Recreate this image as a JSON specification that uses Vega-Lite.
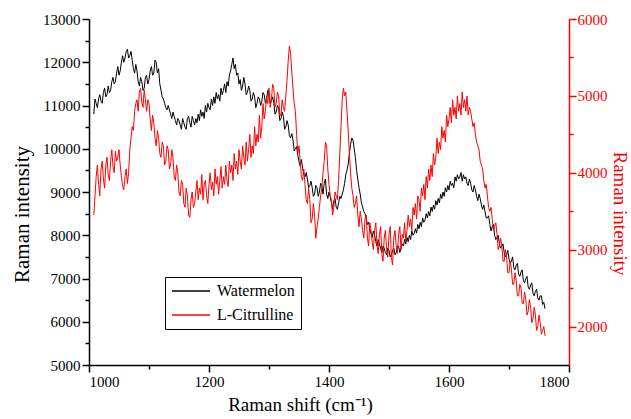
{
"$schema": "https://vega.github.io/schema/vega-lite/v6.json",
"width": 480, "height": 346,
"autosize": {"type": "none"},
"padding": {"left": 89, "top": 19, "right": 62, "bottom": 54},
"background": "white",
"config": {
  "view": {"stroke": null},
  "font": "Liberation Serif",
  "axis": {"grid": false, "labelFont": "Liberation Serif", "titleFont": "Liberation Serif", "labelFontSize": 15, "titleFontSize": 20, "titleFontWeight": "normal", "domainWidth": 1.5, "tickWidth": 1.5, "labelOverlap": false},
  "legend": {"labelFont": "Liberation Serif"}
},
"data": {"values": [
{"x":1008,"W":10800,"C":3450},{"x":1010,"W":11150,"C":3700},{"x":1012,"W":11050,"C":3950},{"x":1014,"W":10950,"C":4100},
{"x":1016,"W":11150,"C":3850},{"x":1018,"W":11250,"C":3700},{"x":1020,"W":11100,"C":4050},{"x":1022,"W":11050,"C":4150},
{"x":1024,"W":11300,"C":3920},{"x":1026,"W":11400,"C":3800},{"x":1028,"W":11200,"C":4100},{"x":1030,"W":11250,"C":4200},
{"x":1032,"W":11450,"C":3980},{"x":1034,"W":11300,"C":3900},{"x":1036,"W":11350,"C":4150},{"x":1038,"W":11550,"C":4300},
{"x":1040,"W":11650,"C":4080},{"x":1042,"W":11500,"C":4000},{"x":1044,"W":11550,"C":4280},{"x":1046,"W":11750,"C":4150},
{"x":1048,"W":11900,"C":4200},{"x":1050,"W":11700,"C":4300},{"x":1052,"W":11800,"C":4100},{"x":1054,"W":12000,"C":3950},
{"x":1056,"W":12150,"C":3830},{"x":1058,"W":12000,"C":3780},{"x":1060,"W":12100,"C":3950},{"x":1062,"W":12250,"C":4050},
{"x":1064,"W":12300,"C":3860},{"x":1066,"W":12100,"C":4000},{"x":1068,"W":12150,"C":4300},{"x":1070,"W":12250,"C":4450},
{"x":1072,"W":12050,"C":4600},{"x":1074,"W":11850,"C":4550},{"x":1076,"W":11750,"C":4800},{"x":1078,"W":11950,"C":4900},
{"x":1080,"W":11800,"C":4950},{"x":1082,"W":11550,"C":4800},{"x":1084,"W":11450,"C":5050},{"x":1086,"W":11650,"C":5100},
{"x":1088,"W":11550,"C":4920},{"x":1090,"W":11350,"C":4850},{"x":1092,"W":11400,"C":5080},{"x":1094,"W":11650,"C":4950},
{"x":1096,"W":11700,"C":4800},{"x":1098,"W":11500,"C":4950},{"x":1100,"W":11600,"C":4900},{"x":1102,"W":11800,"C":4700},
{"x":1104,"W":11900,"C":4550},{"x":1106,"W":11700,"C":4750},{"x":1108,"W":11750,"C":4650},{"x":1110,"W":12050,"C":4450},
{"x":1112,"W":12000,"C":4350},{"x":1114,"W":11750,"C":4550},{"x":1116,"W":11850,"C":4450},{"x":1118,"W":11500,"C":4250},
{"x":1120,"W":11350,"C":4200},{"x":1122,"W":11200,"C":4400},{"x":1124,"W":11150,"C":4350},{"x":1126,"W":11050,"C":4100},
{"x":1128,"W":10950,"C":4150},{"x":1130,"W":10900,"C":4350},{"x":1132,"W":11000,"C":4300},{"x":1134,"W":10900,"C":4050},
{"x":1136,"W":10800,"C":4100},{"x":1138,"W":10700,"C":4300},{"x":1140,"W":10850,"C":4200},{"x":1142,"W":10750,"C":3950},
{"x":1144,"W":10650,"C":3900},{"x":1146,"W":10550,"C":4100},{"x":1148,"W":10700,"C":4000},{"x":1150,"W":10650,"C":3750},
{"x":1152,"W":10550,"C":3700},{"x":1154,"W":10450,"C":3900},{"x":1156,"W":10700,"C":3850},{"x":1158,"W":10600,"C":3600},
{"x":1160,"W":10500,"C":3550},{"x":1162,"W":10450,"C":3800},{"x":1164,"W":10700,"C":3700},{"x":1166,"W":10750,"C":3450},
{"x":1168,"W":10600,"C":3420},{"x":1170,"W":10500,"C":3650},{"x":1172,"W":10750,"C":3750},{"x":1174,"W":10650,"C":3550},
{"x":1176,"W":10550,"C":3600},{"x":1178,"W":10700,"C":3750},{"x":1180,"W":10600,"C":3900},{"x":1182,"W":10800,"C":3650},
{"x":1184,"W":10650,"C":3800},{"x":1186,"W":10900,"C":3720},{"x":1188,"W":10750,"C":3980},{"x":1190,"W":10850,"C":3650},
{"x":1192,"W":10700,"C":3850},{"x":1194,"W":11000,"C":3900},{"x":1196,"W":10850,"C":3700},{"x":1198,"W":11050,"C":3600},
{"x":1200,"W":10950,"C":3850},{"x":1202,"W":10900,"C":4000},{"x":1204,"W":11150,"C":3780},{"x":1206,"W":11000,"C":3880},
{"x":1208,"W":11200,"C":3700},{"x":1210,"W":11050,"C":4050},{"x":1212,"W":11300,"C":3850},{"x":1214,"W":11150,"C":3950},
{"x":1216,"W":11250,"C":3720},{"x":1218,"W":11100,"C":3900},{"x":1220,"W":11400,"C":4080},{"x":1222,"W":11250,"C":3800},
{"x":1224,"W":11350,"C":3950},{"x":1226,"W":11500,"C":3850},{"x":1228,"W":11300,"C":4100},{"x":1230,"W":11550,"C":3900},
{"x":1232,"W":11450,"C":3820},{"x":1234,"W":11700,"C":4150},{"x":1236,"W":11800,"C":4000},{"x":1238,"W":11950,"C":4100},
{"x":1240,"W":12100,"C":3900},{"x":1242,"W":11850,"C":4250},{"x":1244,"W":11950,"C":4050},{"x":1246,"W":11700,"C":4150},
{"x":1248,"W":11750,"C":3980},{"x":1250,"W":11500,"C":4300},{"x":1252,"W":11600,"C":4150},{"x":1254,"W":11350,"C":4050},
{"x":1256,"W":11450,"C":4350},{"x":1258,"W":11650,"C":4200},{"x":1260,"W":11500,"C":4100},{"x":1262,"W":11250,"C":4400},
{"x":1264,"W":11300,"C":4150},{"x":1266,"W":11450,"C":4300},{"x":1268,"W":11350,"C":4500},{"x":1270,"W":11100,"C":4200},
{"x":1272,"W":11150,"C":4350},{"x":1274,"W":11300,"C":4250},{"x":1276,"W":11200,"C":4600},{"x":1278,"W":10950,"C":4350},
{"x":1280,"W":11050,"C":4500},{"x":1282,"W":11200,"C":4400},{"x":1284,"W":11150,"C":4750},{"x":1286,"W":11000,"C":4450},
{"x":1288,"W":11100,"C":4600},{"x":1290,"W":11300,"C":4900},{"x":1292,"W":11250,"C":4700},{"x":1294,"W":11050,"C":4800},
{"x":1296,"W":11150,"C":5000},{"x":1298,"W":11350,"C":4900},{"x":1300,"W":11300,"C":5100},{"x":1302,"W":11050,"C":4850},
{"x":1304,"W":11100,"C":4950},{"x":1306,"W":11200,"C":5150},{"x":1308,"W":11050,"C":5100},{"x":1310,"W":10800,"C":4850},
{"x":1312,"W":10850,"C":4900},{"x":1314,"W":11000,"C":5050},{"x":1316,"W":10950,"C":5000},{"x":1318,"W":10650,"C":4750},
{"x":1320,"W":10700,"C":4750},{"x":1322,"W":10850,"C":4950},{"x":1324,"W":10750,"C":4850},{"x":1326,"W":10450,"C":4800},
{"x":1328,"W":10500,"C":5000},{"x":1330,"W":10650,"C":5200},{"x":1332,"W":10550,"C":5450},{"x":1334,"W":10300,"C":5650},
{"x":1336,"W":10250,"C":5550},{"x":1338,"W":10350,"C":5300},{"x":1340,"W":10200,"C":5100},{"x":1342,"W":9950,"C":4900},
{"x":1344,"W":10000,"C":4800},{"x":1346,"W":10050,"C":4500},{"x":1348,"W":9850,"C":4250},{"x":1350,"W":9700,"C":4350},
{"x":1352,"W":9600,"C":4150},{"x":1354,"W":9750,"C":3950},{"x":1356,"W":9550,"C":3900},{"x":1358,"W":9400,"C":4050},
{"x":1360,"W":9350,"C":3850},{"x":1362,"W":9450,"C":3650},{"x":1364,"W":9300,"C":3600},{"x":1366,"W":9100,"C":3800},
{"x":1368,"W":9150,"C":3650},{"x":1370,"W":9250,"C":3350},{"x":1372,"W":9100,"C":3400},{"x":1374,"W":8900,"C":3600},
{"x":1376,"W":8950,"C":3450},{"x":1378,"W":9150,"C":3150},{"x":1380,"W":9100,"C":3300},{"x":1382,"W":8900,"C":3400},
{"x":1384,"W":9000,"C":3550},{"x":1386,"W":9200,"C":3700},{"x":1388,"W":9150,"C":3800},{"x":1390,"W":8950,"C":4000},
{"x":1392,"W":9200,"C":4150},{"x":1394,"W":9300,"C":4400},{"x":1396,"W":8950,"C":4350},{"x":1398,"W":8850,"C":4050},
{"x":1400,"W":9000,"C":3850},{"x":1402,"W":8900,"C":3700},{"x":1404,"W":8750,"C":3650},{"x":1406,"W":8600,"C":3450},
{"x":1408,"W":8800,"C":3550},{"x":1410,"W":8850,"C":3750},{"x":1412,"W":8650,"C":3700},{"x":1414,"W":8600,"C":3650},
{"x":1416,"W":8750,"C":3900},{"x":1418,"W":8900,"C":4250},{"x":1420,"W":8850,"C":4600},{"x":1422,"W":8950,"C":4950},
{"x":1424,"W":9050,"C":5100},{"x":1426,"W":9200,"C":5000},{"x":1428,"W":9400,"C":5050},{"x":1430,"W":9500,"C":4800},
{"x":1432,"W":9650,"C":4550},{"x":1434,"W":9900,"C":4250},{"x":1436,"W":10100,"C":4000},{"x":1438,"W":10250,"C":3800},
{"x":1440,"W":10200,"C":3700},{"x":1442,"W":10000,"C":3550},{"x":1444,"W":9800,"C":3600},{"x":1446,"W":9500,"C":3700},
{"x":1448,"W":9300,"C":3450},{"x":1450,"W":9100,"C":3300},{"x":1452,"W":8950,"C":3500},{"x":1454,"W":8750,"C":3400},
{"x":1456,"W":8650,"C":3250},{"x":1458,"W":8550,"C":3150},{"x":1460,"W":8500,"C":3400},{"x":1462,"W":8400,"C":3450},
{"x":1464,"W":8250,"C":3150},{"x":1466,"W":8300,"C":3050},{"x":1468,"W":8150,"C":3350},{"x":1470,"W":8050,"C":3250},
{"x":1472,"W":7950,"C":3100},{"x":1474,"W":8100,"C":3000},{"x":1476,"W":8000,"C":3250},{"x":1478,"W":7850,"C":3350},
{"x":1480,"W":7750,"C":3050},{"x":1482,"W":7900,"C":2950},{"x":1484,"W":7800,"C":3200},{"x":1486,"W":7700,"C":3300},
{"x":1488,"W":7600,"C":2950},{"x":1490,"W":7750,"C":2850},{"x":1492,"W":7700,"C":3150},{"x":1494,"W":7600,"C":3250},
{"x":1496,"W":7550,"C":3000},{"x":1498,"W":7700,"C":2900},{"x":1500,"W":7650,"C":3200},{"x":1502,"W":7500,"C":3300},
{"x":1504,"W":7550,"C":2900},{"x":1506,"W":7650,"C":2800},{"x":1508,"W":7700,"C":3150},{"x":1510,"W":7550,"C":3250},
{"x":1512,"W":7600,"C":3050},{"x":1514,"W":7750,"C":2950},{"x":1516,"W":7750,"C":3200},{"x":1518,"W":7600,"C":3300},
{"x":1520,"W":7700,"C":3000},{"x":1522,"W":7800,"C":3200},{"x":1524,"W":7750,"C":3150},{"x":1526,"W":7900,"C":3350},
{"x":1528,"W":7800,"C":3100},{"x":1530,"W":7950,"C":3250},{"x":1532,"W":7850,"C":3450},{"x":1534,"W":8000,"C":3300},
{"x":1536,"W":7900,"C":3400},{"x":1538,"W":8100,"C":3250},{"x":1540,"W":8000,"C":3550},{"x":1542,"W":8050,"C":3450},
{"x":1544,"W":8150,"C":3600},{"x":1546,"W":8050,"C":3400},{"x":1548,"W":8250,"C":3700},{"x":1550,"W":8150,"C":3650},
{"x":1552,"W":8300,"C":3500},{"x":1554,"W":8200,"C":3800},{"x":1556,"W":8400,"C":3700},{"x":1558,"W":8300,"C":3850},
{"x":1560,"W":8350,"C":3650},{"x":1562,"W":8500,"C":3950},{"x":1564,"W":8400,"C":3800},{"x":1566,"W":8550,"C":4050},
{"x":1568,"W":8450,"C":3900},{"x":1570,"W":8650,"C":4100},{"x":1572,"W":8550,"C":3950},{"x":1574,"W":8700,"C":4250},
{"x":1576,"W":8600,"C":4100},{"x":1578,"W":8800,"C":4200},{"x":1580,"W":8700,"C":4450},{"x":1582,"W":8850,"C":4250},
{"x":1584,"W":8750,"C":4400},{"x":1586,"W":8950,"C":4300},{"x":1588,"W":8850,"C":4600},{"x":1590,"W":9000,"C":4450},
{"x":1592,"W":8900,"C":4550},{"x":1594,"W":9100,"C":4400},{"x":1596,"W":9000,"C":4750},{"x":1598,"W":9150,"C":4600},
{"x":1600,"W":9050,"C":4700},{"x":1602,"W":9250,"C":4850},{"x":1604,"W":9150,"C":4650},{"x":1606,"W":9200,"C":4950},
{"x":1608,"W":9100,"C":4750},{"x":1610,"W":9350,"C":4850},{"x":1612,"W":9250,"C":4700},{"x":1614,"W":9400,"C":5000},
{"x":1616,"W":9300,"C":4800},{"x":1618,"W":9350,"C":4900},{"x":1620,"W":9450,"C":4750},{"x":1622,"W":9250,"C":5050},
{"x":1624,"W":9400,"C":4850},{"x":1626,"W":9300,"C":4950},{"x":1628,"W":9350,"C":4800},{"x":1630,"W":9200,"C":5000},
{"x":1632,"W":9150,"C":4750},{"x":1634,"W":9300,"C":4850},{"x":1636,"W":9200,"C":4800},{"x":1638,"W":9050,"C":4700},
{"x":1640,"W":9000,"C":4600},{"x":1642,"W":9150,"C":4650},{"x":1644,"W":9050,"C":4500},{"x":1646,"W":8900,"C":4400},
{"x":1648,"W":8800,"C":4350},{"x":1650,"W":8950,"C":4300},{"x":1652,"W":8850,"C":4150},{"x":1654,"W":8700,"C":4100},
{"x":1656,"W":8600,"C":4050},{"x":1658,"W":8700,"C":3900},{"x":1660,"W":8550,"C":3800},{"x":1662,"W":8400,"C":3850},
{"x":1664,"W":8400,"C":3700},{"x":1666,"W":8450,"C":3550},{"x":1668,"W":8250,"C":3500},{"x":1670,"W":8100,"C":3550},
{"x":1672,"W":8200,"C":3400},{"x":1674,"W":8250,"C":3250},{"x":1676,"W":8000,"C":3300},{"x":1678,"W":7900,"C":3350},
{"x":1680,"W":7950,"C":3200},{"x":1682,"W":8000,"C":3000},{"x":1684,"W":7800,"C":3050},{"x":1686,"W":7700,"C":3150},
{"x":1688,"W":7750,"C":3050},{"x":1690,"W":7800,"C":2850},{"x":1692,"W":7600,"C":2850},{"x":1694,"W":7500,"C":3000},
{"x":1696,"W":7550,"C":2900},{"x":1698,"W":7650,"C":2700},{"x":1700,"W":7450,"C":2700},{"x":1702,"W":7350,"C":2850},
{"x":1704,"W":7400,"C":2750},{"x":1706,"W":7500,"C":2550},{"x":1708,"W":7250,"C":2550},{"x":1710,"W":7200,"C":2700},
{"x":1712,"W":7300,"C":2600},{"x":1714,"W":7350,"C":2400},{"x":1716,"W":7100,"C":2400},{"x":1718,"W":7050,"C":2550},
{"x":1720,"W":7150,"C":2500},{"x":1722,"W":7200,"C":2300},{"x":1724,"W":6950,"C":2300},{"x":1726,"W":6900,"C":2450},
{"x":1728,"W":7000,"C":2350},{"x":1730,"W":7050,"C":2150},{"x":1732,"W":6800,"C":2200},{"x":1734,"W":6750,"C":2350},
{"x":1736,"W":6850,"C":2250},{"x":1738,"W":6900,"C":2050},{"x":1740,"W":6650,"C":2100},{"x":1742,"W":6600,"C":2250},
{"x":1744,"W":6700,"C":2150},{"x":1746,"W":6750,"C":1950},{"x":1748,"W":6550,"C":2000},{"x":1750,"W":6500,"C":2150},
{"x":1752,"W":6600,"C":2050},{"x":1754,"W":6600,"C":1900},{"x":1756,"W":6400,"C":1950},{"x":1758,"W":6450,"C":2000},
{"x":1760,"W":6300,"C":1880}
]},
"layer": [
  {
    "mark": {"type": "line", "strokeWidth": 1},
    "encoding": {
      "x": {"field": "x", "type": "quantitative",
        "scale": {"domain": [1000, 1800], "nice": false},
        "axis": {"title": "Raman shift (cm⁻¹)", "values": [1000,1100,1200,1300,1400,1500,1600,1700,1800], "format": "d",
          "labelExpr": "datum.value % 200 === 0 ? datum.label : ''",
          "tickSize": {"condition": {"test": "datum.value % 200 === 0", "value": 7}, "value": 4},
          "labelFont": "Liberation Serif", "titleFont": "Liberation Serif", "titleFontSize": 19, "titleX": 211,
          "labelPadding": 2, "titlePadding": 6, "domainColor": "#000000", "tickColor": "#000000", "labelColor": "#000000", "titleColor": "#000000"}},
      "y": {"field": "W", "type": "quantitative",
        "scale": {"domain": [5000, 13000], "nice": false, "zero": false},
        "axis": {"title": "Raman intensity", "values": [5000,5500,6000,6500,7000,7500,8000,8500,9000,9500,10000,10500,11000,11500,12000,12500,13000], "format": "d",
          "labelExpr": "datum.value % 1000 === 0 ? datum.label : ''",
          "tickSize": {"condition": {"test": "datum.value % 1000 === 0", "value": 7}, "value": 4},
          "labelFont": "Liberation Serif", "titleFont": "Liberation Serif", "titleFontSize": 21, "titleY": 195,
          "labelPadding": 2, "titlePadding": 10, "domainColor": "#000000", "tickColor": "#000000", "labelColor": "#000000", "titleColor": "#000000"}},
      "color": {"datum": "Watermelon", "type": "nominal",
        "scale": {"domain": ["Watermelon", "L-Citrulline"], "range": ["#000000", "#ff0000"]},
        "legend": {"orient": "none", "legendX": 76, "legendY": 258, "title": null, "strokeColor": "#000000", "fillColor": "#ffffff",
          "padding": 6, "symbolType": "stroke", "symbolSize": 1444, "clipHeight": 16, "symbolStrokeWidth": 1.5, "labelFontSize": 16, "labelFont": "Liberation Serif",
          "rowPadding": 8, "labelOffset": 6, "labelColor": "#000000"}}
    }
  },
  {
    "mark": {"type": "line", "strokeWidth": 1},
    "encoding": {
      "x": {"field": "x", "type": "quantitative"},
      "y": {"field": "C", "type": "quantitative",
        "scale": {"domain": [1500, 6000], "nice": false, "zero": false},
        "axis": {"title": "Raman intensity", "values": [2000,2500,3000,3500,4000,4500,5000,5500,6000], "format": "d",
          "labelExpr": "datum.value % 1000 === 0 ? datum.label : ''",
          "tickSize": {"condition": {"test": "datum.value % 1000 === 0", "value": 7}, "value": 4},
          "labelFont": "Liberation Serif", "titleFont": "Liberation Serif", "titleFontSize": 19, "titleY": 194,
          "labelPadding": 1, "titlePadding": 2, "domainColor": "#ff0000", "tickColor": "#ff0000", "labelColor": "#ff0000", "titleColor": "#ff0000"}},
      "color": {"datum": "L-Citrulline", "type": "nominal"}
    }
  }
],
"resolve": {"scale": {"y": "independent"}}
}
